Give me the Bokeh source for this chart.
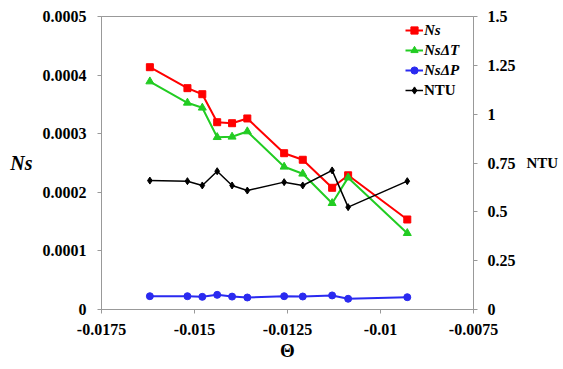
from bokeh.plotting import figure
from bokeh.models import (Range1d, LinearAxis, FixedTicker, CustomJSTickFormatter,
                          Legend, LegendItem)
from bokeh.embed import file_html
from bokeh.resources import INLINE

theta = [-0.01620, -0.01519, -0.01479, -0.01439, -0.01399, -0.01358,
         -0.01259, -0.01209, -0.01130, -0.01087, -0.00928]
ns = [0.0004135, 0.0003777, 0.0003674, 0.0003196, 0.0003179, 0.000326,
      0.0002667, 0.0002555, 0.0002077, 0.000229, 0.0001536]
ns_dt = [0.000389, 0.0003527, 0.0003442, 0.000294, 0.0002947, 0.0003038,
         0.0002435, 0.0002316, 0.0001814, 0.000225, 0.0001302]
ns_dp = [0.0000227, 0.0000227, 0.0000216, 0.000025, 0.000022, 0.0000205,
         0.0000227, 0.0000222, 0.000024, 0.0000183, 0.000021]
ntu = [0.660, 0.657, 0.635, 0.708, 0.635, 0.609, 0.652, 0.635, 0.712, 0.524, 0.657]

x_ticks = [-0.0175, -0.015, -0.0125, -0.01, -0.0075]
y_ticks = [0, 0.0001, 0.0002, 0.0003, 0.0004, 0.0005]
y2_ticks = [0, 0.25, 0.5, 0.75, 1, 1.25, 1.5]

FONT = "serif"
AX = "#999999"

p = figure(width=563, height=369, output_backend="svg", toolbar_location=None,
           x_range=Range1d(-0.0175, -0.0075), y_range=Range1d(0, 0.0005),
           min_border_left=101, min_border_right=90, min_border_top=16,
           min_border_bottom=60)
p.grid.visible = False
p.outline_line_color = AX
p.background_fill_color = "white"
p.border_fill_color = "white"

p.extra_y_ranges = {"ntu": Range1d(0, 1.5)}
raxis = LinearAxis(y_range_name="ntu")
p.add_layout(raxis, "right")

p.xaxis.ticker = FixedTicker(ticks=x_ticks)
p.xaxis.formatter = CustomJSTickFormatter(code="return Number(tick.toFixed(5)).toString();")
p.yaxis[0].ticker = FixedTicker(ticks=y_ticks)
p.yaxis[0].formatter = CustomJSTickFormatter(code="return Number(tick.toFixed(5)).toString();")
raxis.ticker = FixedTicker(ticks=y2_ticks)
raxis.formatter = CustomJSTickFormatter(code="return Number(tick.toFixed(3)).toString();")

for ax in [p.xaxis[0], p.yaxis[0], raxis]:
    ax.axis_line_color = AX
    ax.major_tick_line_color = AX
    ax.major_tick_out = 4
    ax.major_tick_in = 0
    ax.minor_tick_line_color = None
    ax.major_label_text_font = FONT
    ax.major_label_text_font_style = "bold"
    ax.major_label_text_font_size = "16px"
    ax.major_label_text_color = "black"
    ax.axis_label_text_font = FONT
    ax.axis_label_text_color = "black"

p.xaxis.major_label_standoff = 10
p.xaxis.axis_label = "Θ"
p.xaxis.axis_label_text_font_style = "bold"
p.xaxis.axis_label_text_font_size = "19px"
p.xaxis.axis_label_standoff = 2

p.yaxis[0].major_label_standoff = 11
p.yaxis[0].axis_label = "Ns"
p.yaxis[0].axis_label_orientation = "horizontal"
p.yaxis[0].axis_label_text_font_style = "bold italic"
p.yaxis[0].axis_label_text_font_size = "20px"
p.yaxis[0].axis_label_standoff = 7

raxis.major_label_standoff = 10
raxis.axis_label = "NTU"
raxis.axis_label_orientation = "horizontal"
raxis.axis_label_text_font_style = "bold"
raxis.axis_label_text_font_size = "15px"
raxis.axis_label_standoff = 8

RED, GREEN, BLUE = "#FF0000", "#22CC22", "#2A2AF0"

l_ns = p.line(theta, ns, color=RED, line_width=2)
s_ns = p.scatter(theta, ns, marker="square", size=7, color=RED)
l_dt = p.line(theta, ns_dt, color=GREEN, line_width=2)
s_dt = p.scatter(theta, ns_dt, marker="triangle", size=8, color=GREEN)
l_dp = p.line(theta, ns_dp, color=BLUE, line_width=2)
s_dp = p.scatter(theta, ns_dp, marker="circle", size=7, color=BLUE)
l_ntu = p.line(theta, ntu, color="black", line_width=1.5, y_range_name="ntu")
s_ntu = p.scatter(theta, ntu, marker="diamond", size=7, color="black", y_range_name="ntu")

def mk_legend(items, style, loc):
    lg = Legend(items=items, location=loc, orientation="vertical")
    lg.label_text_font = FONT
    lg.label_text_font_style = style
    lg.label_text_font_size = "15px"
    lg.label_text_color = "black"
    lg.glyph_width = 18
    lg.glyph_height = 20
    lg.label_height = 20
    lg.label_standoff = 1
    lg.spacing = 0
    lg.padding = 0
    lg.margin = 0
    lg.background_fill_alpha = 0
    lg.border_line_alpha = 0
    return lg

lg1 = mk_legend([LegendItem(label="Ns", renderers=[l_ns, s_ns]),
                 LegendItem(label="NsΔT", renderers=[l_dt, s_dt]),
                 LegendItem(label="NsΔP", renderers=[l_dp, s_dp])],
                "bold italic", (304, 229))
lg2 = mk_legend([LegendItem(label="NTU", renderers=[l_ntu, s_ntu])],
                "bold", (304, 209))
p.add_layout(lg1, "center")
p.add_layout(lg2, "center")

open("out.html", "w").write(file_html(p, INLINE))
